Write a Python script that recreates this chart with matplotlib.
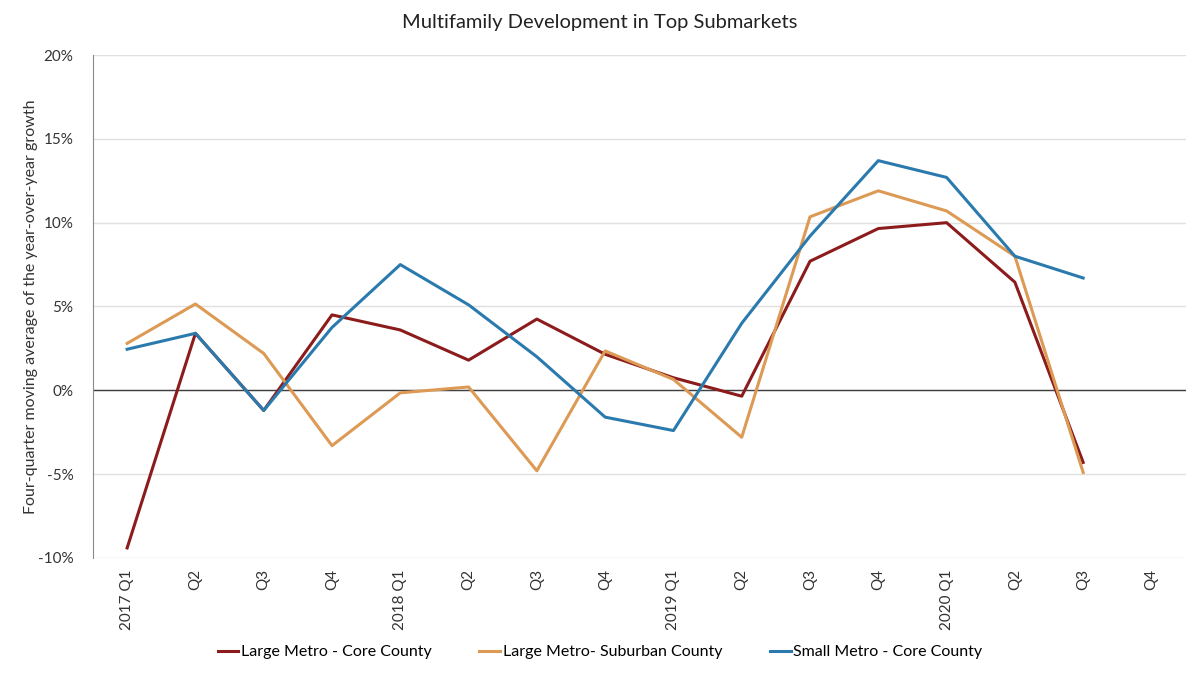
import matplotlib.pyplot as plt
import numpy as np

plt.rcParams['font.family'] = ['Lato', 'DejaVu Sans']

quarters = ['2017 Q1', 'Q2', 'Q3', 'Q4',
            '2018 Q1', 'Q2', 'Q3', 'Q4',
            '2019 Q1', 'Q2', 'Q3', 'Q4',
            '2020 Q1', 'Q2', 'Q3', 'Q4']

# values in %, 2020 Q4 has no data
large_core = [-9.4, 3.4, -1.2, 4.5, 3.6, 1.8, 4.25, 2.15, 0.75, -0.35,
              7.7, 9.65, 10.0, 6.45, -4.3, np.nan]
large_suburban = [2.8, 5.15, 2.2, -3.3, -0.15, 0.2, -4.8, 2.35, 0.65, -2.8,
                  10.35, 11.9, 10.7, 8.0, -4.9, np.nan]
small_core = [2.45, 3.4, -1.2, 3.75, 7.5, 5.1, 2.0, -1.6, -2.4, 4.0,
              9.2, 13.7, 12.7, 8.0, 6.7, np.nan]

series = [
    ('Large Metro - Core County', large_core, '#8c1c1c'),
    ('Large Metro- Suburban County', large_suburban, '#dc9a55'),
    ('Small Metro - Core County', small_core, '#2a7aae'),
]

fig = plt.figure(figsize=(12, 6.76), dpi=100)
ax = fig.add_axes([0.0775, 0.1746, 0.9105, 0.744])

x = np.arange(len(quarters))
for name, vals, color in series:
    ax.plot(x, vals, color=color, linewidth=2.2, label=name)

ax.axhline(0, color='#404040', linewidth=1.0, zorder=1)

ax.set_xlim(-0.5, len(quarters) - 0.5)
ax.set_ylim(-10, 20)
ax.set_yticks(np.arange(-10, 21, 5))
ax.set_yticklabels([f'{v}%' for v in range(-10, 21, 5)])
ax.set_xticks(x)
ax.set_xticklabels(quarters, rotation=90)

ax.yaxis.grid(True, color='#e0e0e0', linewidth=1.0)
ax.set_axisbelow(True)
for side in ['top', 'right', 'bottom']:
    ax.spines[side].set_visible(False)
ax.spines['left'].set_color('#8a8a8a')
ax.tick_params(axis='both', length=0, labelsize=11, colors='#333333')
ax.tick_params(axis='y', pad=14)
ax.tick_params(axis='x', pad=8)

ax.set_ylabel('Four-quarter moving average of the year-over-year growth',
              fontsize=11.5, color='#333333')
ax.yaxis.set_label_coords(-0.050, 0.5)
fig.text(0.5, 0.966, 'Multifamily Development in Top Submarkets',
         ha='center', va='center', fontsize=14.5, color='#222222')

fig.legend(loc='center', bbox_to_anchor=(0.5, 0.035), ncol=3, frameon=False,
           fontsize=11.5, handlelength=1.3, handletextpad=0.15, columnspacing=3.0)

fig.savefig('out.png', dpi=100)
